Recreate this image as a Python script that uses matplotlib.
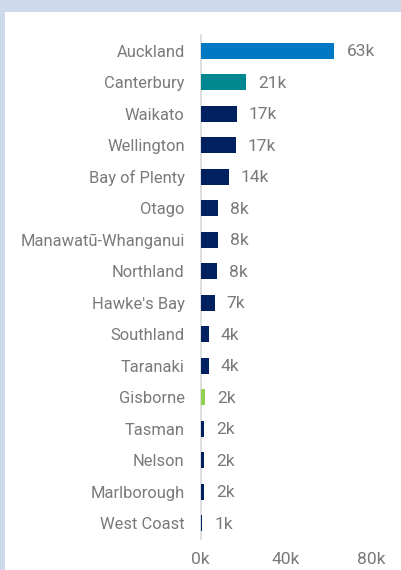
import matplotlib
matplotlib.use("Agg")
import matplotlib.pyplot as plt
from matplotlib.patches import Rectangle

regions = ["Auckland", "Canterbury", "Waikato", "Wellington", "Bay of Plenty", "Otago",
           "Manawatū-Whanganui", "Northland", "Hawke's Bay", "Southland", "Taranaki",
           "Gisborne", "Tasman", "Nelson", "Marlborough", "West Coast"]
values = [62.8, 21.2, 17.0, 16.4, 13.1, 8.0, 8.0, 7.5, 6.6, 3.8, 3.8, 2.0, 1.5, 1.5, 1.5, 0.8]
labels = ["63k", "21k", "17k", "17k", "14k", "8k", "8k", "8k", "7k", "4k", "4k", "2k", "2k", "2k", "2k", "1k"]
colors = ["#0079c5", "#00878f"] + ["#002060"] * 9 + ["#92d050"] + ["#002060"] * 4
xticks = [0, 40, 80]
xticklabels = ["0k", "40k", "80k"]

plt.rcParams['font.family'] = ['Roboto', 'DejaVu Sans']
W, H = 401, 570
fig = plt.figure(figsize=(W / 100, H / 100), dpi=100)
fig.patch.set_facecolor("#cfd9ec")
fig.add_artist(Rectangle((5 / W, 0), 1, 1 - 12 / H, transform=fig.transFigure,
                         facecolor="white", edgecolor="none", zorder=0))

txt_color = "#7a7a7a"
x0, x1 = 200.7, 371
y_top, y_bot = 35, 539
ax = fig.add_axes([x0 / W, 1 - y_bot / H, (x1 - x0) / W, (y_bot - y_top) / H])
ax.set_facecolor("none")
ypos = list(range(len(regions)))
ax.barh(ypos, values, height=0.5, color=colors, zorder=2)
ax.set_ylim(len(regions) - 0.5, -0.5)
ax.set_xlim(0, 80)
ax.set_yticks(ypos)
ax.set_yticklabels(regions, fontsize=11.9, color=txt_color)
ax.set_xticks(xticks)
ax.set_xticklabels(xticklabels, fontsize=12.5, color=txt_color)
ax.tick_params(axis="y", length=0, pad=11.5)
ax.tick_params(axis="x", length=0, pad=9)
for s in ["top", "right", "bottom"]:
    ax.spines[s].set_visible(False)
ax.spines["left"].set_color("#d9d9d9")
ax.spines["left"].set_linewidth(1.2)
ax.spines["left"].set_zorder(1)
for y, v, lab in zip(ypos, values, labels):
    ax.annotate(lab, (v, y), xytext=(12, -1), textcoords="offset pixels",
                va="center", ha="left", fontsize=12.5, color=txt_color)

fig.savefig("out.png", dpi=100)
